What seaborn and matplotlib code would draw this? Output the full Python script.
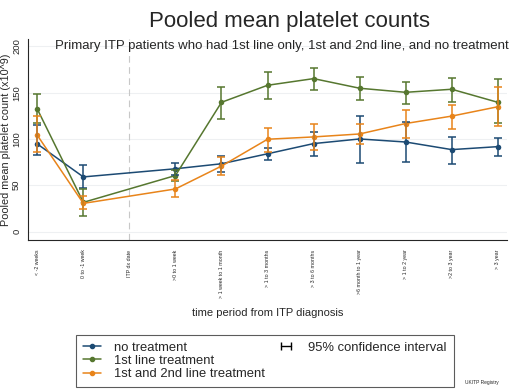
import numpy as np
import pandas as pd
import seaborn as sns
import matplotlib.pyplot as plt
from matplotlib.lines import Line2D
from matplotlib.legend_handler import HandlerLine2D

# time periods (x axis categories)
periods = ["< -2 weeks", "0 to -1 week", "ITP dx date", ">0 to 1 week",
           "> 1 week to 1 month", "> 1 to 3 months", "> 3 to 6 months",
           ">6 month to 1 year", "> 1 to 2 year", ">2 to 3 year", "> 3 year"]

# pooled means and 95% CI per group (no value at ITP dx date)
no_treat = [94.6, 59, np.nan, 67.8, 73.2, 84, 95, 100, 96.7, 88.5, 91.7]
no_treat_lo = [82.6, 46.7, np.nan, 61, 64, 77.2, 81.5, 73.6, 75.4, 73.2, 81.5]
no_treat_hi = [115, 71.4, np.nan, 74.3, 81.5, 90.6, 107, 125, 117.8, 102.6, 101.5]

first_line = [132.3, 31.5, np.nan, 60.5, 139.6, 158, 165.2, 154.8, 150.4, 153.7, 139.6]
first_line_lo = [116.9, 17, np.nan, 55, 121.4, 143.2, 153, 142.4, 137.7, 140.2, 117]
first_line_hi = [148.3, 46.4, np.nan, 66, 156.6, 172.1, 176.5, 166.7, 162, 166.3, 164.9]

second_line = [104, 30.4, np.nan, 46, 70.7, 99.7, 102.2, 105.4, 116.7, 124.7, 134.8]
second_line_lo = [86.3, 24.6, np.nan, 37, 61.6, 85.9, 87.7, 94.2, 101.5, 111.3, 113.5]
second_line_hi = [124.3, 38, np.nan, 55.4, 80.8, 111.6, 116.7, 116.7, 131.6, 137, 155.9]

groups = ["no treatment", "1st line treatment", "1st and 2nd line treatment"]
colors = ["#1c4a73", "#56772f", "#e8841a"]

sns.set_style("white")
plt.rcParams["font.family"] = ["Liberation Sans", "DejaVu Sans"]

rows = []
for g, means, lo, hi in zip(groups,
                            [no_treat, first_line, second_line],
                            [no_treat_lo, first_line_lo, second_line_lo],
                            [no_treat_hi, first_line_hi, second_line_hi]):
    for i in range(len(periods)):
        rows.append({"x": i, "group": g, "mean": means[i], "lo": lo[i], "hi": hi[i]})
df = pd.DataFrame(rows)

fig = plt.figure(figsize=(5.2, 3.9), dpi=100)
ax = fig.add_axes([0.054, 0.385, 0.921, 0.515])

for y in [0, 50, 100, 150, 200]:
    ax.axhline(y, color="#eef0f2", lw=0.8, zorder=0)
ax.axvline(2, color="#c8c8c8", lw=0.8, ls=(0, (6, 4)), zorder=0)

sns.lineplot(data=df.dropna(), x="x", y="mean", hue="group", hue_order=groups,
             palette=colors, marker="o", markersize=4, markeredgewidth=0,
             linewidth=1.1, legend=False, ax=ax)

for g, c in zip(groups, colors):
    sub = df[df["group"] == g].dropna()
    ax.errorbar(sub["x"], sub["mean"],
                yerr=[sub["mean"] - sub["lo"], sub["hi"] - sub["mean"]],
                fmt="none", ecolor=c, elinewidth=1.1, capsize=3, capthick=1.1)

ax.set_xlim(-0.2, 10.2)
ax.set_ylim(-9, 208)
ax.set_xticks(range(len(periods)))
ax.set_xticklabels(periods, rotation=90, fontsize=3.8, va="top")
ax.set_yticks([0, 50, 100, 150, 200])
ax.set_yticklabels(["0", "50", "100", "150", "200"], rotation=90, va="center", fontsize=6.8)
ax.tick_params(axis="both", length=3, width=0.8, color="black", pad=2)
ax.tick_params(axis="x", pad=4)
ax.spines["top"].set_visible(False)
ax.spines["right"].set_visible(False)
ax.set_xlabel("time period from ITP diagnosis", fontsize=8)
ax.set_ylabel("Pooled mean platelet count (x10^9)", fontsize=7.8, labelpad=1)
ax.xaxis.set_label_coords(0.5, -0.363)
ax.xaxis.label.set_va("center")

fig.text(0.557, 0.945, "Pooled mean platelet counts", ha="center", va="center", fontsize=16)
ax.text(0.056, 0.966, "Primary ITP patients who had 1st line only, 1st and 2nd line, and no treatment",
        transform=ax.transAxes, ha="left", va="center", fontsize=9.5)

handles = [Line2D([], [], color=c, marker="o", markersize=3, lw=1.1) for c in colors]
ci = Line2D([], [], color="black", marker="|", markersize=6, lw=1)
blank = Line2D([], [], color="none")
leg = fig.legend(handles + [ci, blank, blank], groups + ["95% confidence interval", "", ""],
                 ncol=2, loc="lower left", bbox_to_anchor=(0.133, -0.01, 0.752, 0.131),
                 mode="expand", fontsize=9.4, frameon=True, fancybox=False,
                 handlelength=1.4, handletextpad=1.0, labelspacing=0.08,
                 borderpad=0.55, columnspacing=2,
                 handler_map={ci: HandlerLine2D(numpoints=2)})
leg.get_frame().set_edgecolor("#333333")
leg.get_frame().set_linewidth(0.8)

fig.text(0.895, 0.018, "UKITP Registry", fontsize=3.5, ha="left", va="center")

fig.savefig("out.png", dpi=100)
